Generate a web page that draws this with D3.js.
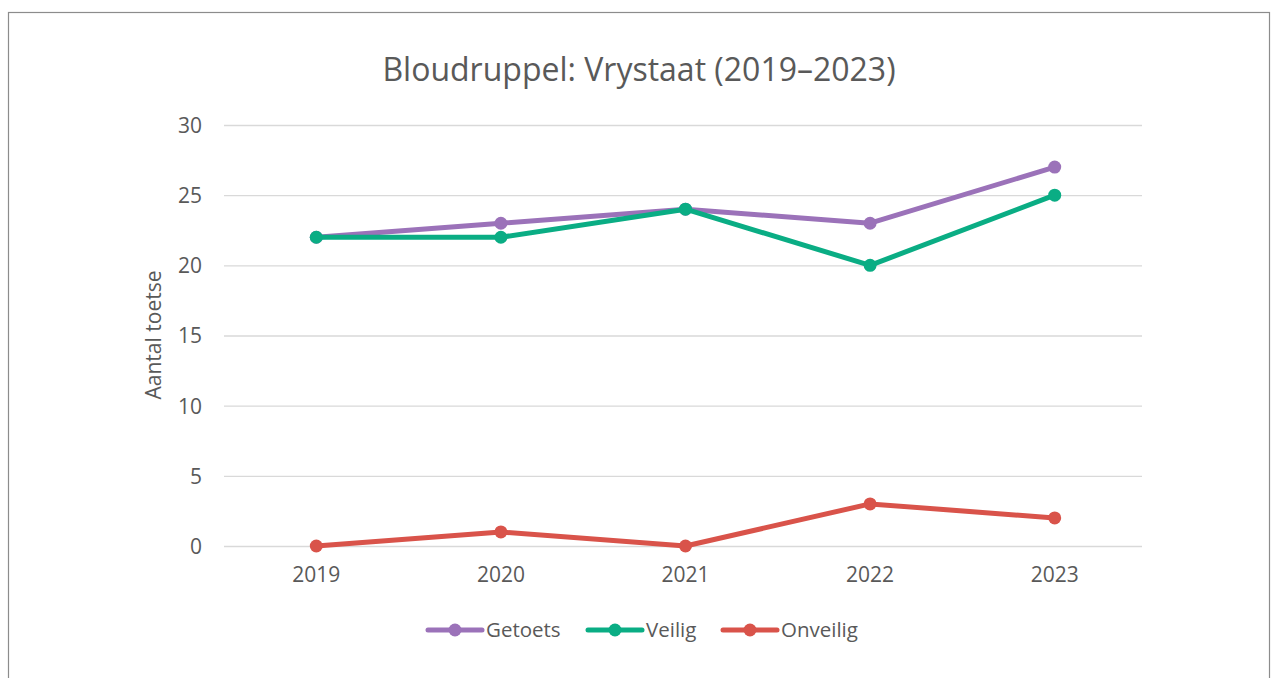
<!DOCTYPE html>
<html><head><meta charset="utf-8">
<script src="https://cdn.jsdelivr.net/npm/d3@7"></script>
<style>body{margin:0;background:#fff}svg{display:block}text{font-family:"Open Sans",sans-serif;fill:#595959}</style>
</head><body><svg id="c" width="1271" height="678"></svg>
<script>
const years = ["2019","2020","2021","2022","2023"];
const getoets = [22,23,24,23,27];
const veilig = [22,22,24,20,25];
const onveilig = [0,1,0,3,2];
const yTicks = [0,5,10,15,20,25,30];
const seriesNames = ["Getoets","Veilig","Onveilig"];
const seriesColors = ["#9b72b9","#0aad84","#d9534a"];

const svg = d3.select("#c");
svg.append("rect").attr("x",8.5).attr("y",12.5).attr("width",1261).attr("height",700).attr("fill","#fff").attr("stroke","#8c8c8c").attr("stroke-width",1.2);

const x = d3.scaleBand().domain(years).range([224,1147]);
const y = d3.scaleLinear().domain([0,30]).range([546,125]);

svg.append("text").attr("x",639).attr("y",81).attr("text-anchor","middle").attr("font-size",32).text("Bloudruppel: Vrystaat (2019–2023)");

const yAxis = d3.axisLeft(y).tickValues(yTicks).tickSize(-(1142-224)).tickPadding(22);
const gy = svg.append("g").attr("transform","translate(224,0)").call(yAxis);
gy.select(".domain").remove();
gy.selectAll(".tick line").attr("stroke","#d9d9d9").attr("stroke-width",1.3);
gy.selectAll(".tick text").attr("font-size",21).attr("fill","#595959").attr("dy","0.35em");

const xAxis = d3.axisBottom(x).tickSize(0).tickPadding(21);
const gx = svg.append("g").attr("transform","translate(0,546)").call(xAxis);
gx.select(".domain").remove();
gx.selectAll(".tick text").attr("font-size",21).attr("fill","#595959");

svg.append("text").attr("transform","translate(161,335) rotate(-90)").attr("text-anchor","middle").attr("font-size",21).text("Aantal toetse");

const data = [getoets, veilig, onveilig];
const line = d3.line().x((d,i)=>x(years[i])+x.bandwidth()/2).y(d=>y(d));
data.forEach((s,k)=>{
  svg.append("path").datum(s).attr("d",line).attr("fill","none").attr("stroke",seriesColors[k]).attr("stroke-width",5).attr("stroke-linejoin","round").attr("stroke-linecap","round");
  svg.selectAll(null).data(s).enter().append("circle").attr("cx",(d,i)=>x(years[i])+x.bandwidth()/2).attr("cy",d=>y(d)).attr("r",6.5).attr("fill",seriesColors[k]);
});

const legX = [428,588,723];
seriesNames.forEach((n,k)=>{
  const g = svg.append("g").attr("transform",`translate(${legX[k]},630)`);
  g.append("line").attr("x1",0).attr("x2",54).attr("stroke",seriesColors[k]).attr("stroke-width",5).attr("stroke-linecap","round");
  g.append("circle").attr("cx",27).attr("r",6.5).attr("fill",seriesColors[k]);
  g.append("text").attr("x",58).attr("dy","0.35em").attr("font-size",20.5).text(n);
});
</script></body></html>
